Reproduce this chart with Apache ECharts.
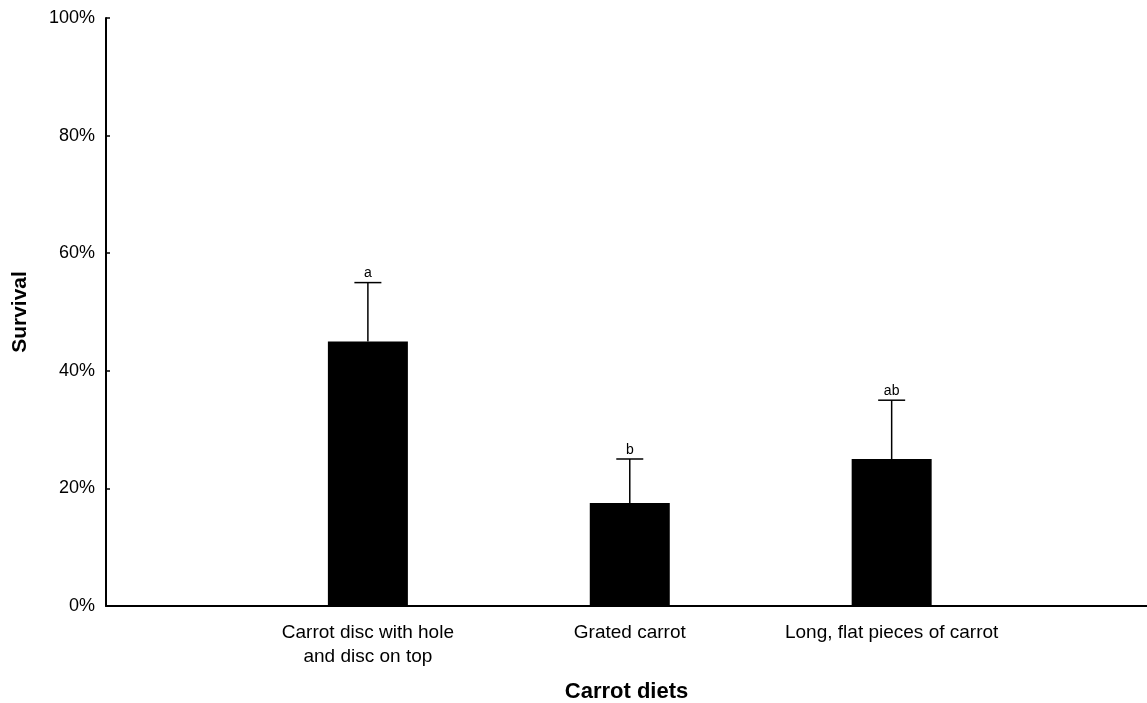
<!DOCTYPE html>
<html>
<head>
<meta charset="utf-8">
<script src="https://cdn.jsdelivr.net/npm/echarts@6/dist/echarts.min.js"></script>
<style>
html,body{margin:0;padding:0;background:#fff;}
#chart{width:1147px;height:703px;}
</style>
</head>
<body>
<div id="chart"></div>
<script>
// Data
const categories = ['Carrot disc with hole\nand disc on top', 'Grated carrot', 'Long, flat pieces of carrot'];
const positions = [1, 2, 3];
const survival = [45, 17.5, 25];
const errorUpper = [10, 7.5, 10];
const letters = ['a', 'b', 'ab'];
const yTickStep = 20;

const font = 'Liberation Sans, Arial, Helvetica, sans-serif';
const chart = echarts.init(document.getElementById('chart'), null, {renderer: 'canvas'});

const barData = positions.map((p, i) => [p, survival[i]]);
const errData = positions.map((p, i) => [p, survival[i], survival[i] + errorUpper[i], i]);

chart.setOption({
  animation: false,
  backgroundColor: '#ffffff',
  grid: {left: 106, right: 0, top: 18, bottom: 97, containLabel: false, outerBoundsMode: 'none'},
  xAxis: {
    type: 'value',
    min: 0,
    max: 3.975,
    interval: 1,
    name: 'Carrot diets',
    nameLocation: 'middle',
    nameGap: 75,
    nameTextStyle: {fontFamily: font, fontSize: 22, fontWeight: 'bold', color: '#000'},
    axisLine: {show: true, lineStyle: {color: '#000', width: 2}},
    axisTick: {show: false},
    splitLine: {show: false},
    axisLabel: {
      show: true,
      margin: 15,
      fontFamily: font,
      fontSize: 19,
      lineHeight: 24,
      color: '#000',
      showMinLabel: false,
      showMaxLabel: false,
      formatter: function (v) {
        const idx = positions.indexOf(v);
        return idx >= 0 ? categories[idx] : '';
      }
    }
  },
  yAxis: {
    type: 'value',
    min: 0,
    max: 100,
    interval: yTickStep,
    name: 'Survival',
    nameLocation: 'middle',
    nameGap: 75,
    nameTextStyle: {fontFamily: font, fontSize: 21, fontWeight: 'bold', color: '#000'},
    axisLine: {show: true, lineStyle: {color: '#000', width: 2}},
    axisTick: {show: true, inside: true, length: 4, lineStyle: {color: '#000', width: 1.5}},
    splitLine: {show: false},
    axisLabel: {
      margin: 11,
      fontFamily: font,
      fontSize: 18,
      color: '#000',
      formatter: v => v + '%'
    }
  },
  series: [
    {
      type: 'bar',
      data: barData,
      barWidth: 80,
      itemStyle: {color: '#000'},
      z: 2
    },
    {
      type: 'custom',
      data: errData,
      z: 3,
      renderItem: function (params, api) {
        const x = api.value(0);
        const lo = api.coord([x, api.value(1)]);
        const hi = api.coord([x, api.value(2)]);
        const idx = api.value(3);
        const half = 13.5;
        return {
          type: 'group',
          children: [
            {type: 'line', shape: {x1: lo[0], y1: lo[1], x2: hi[0], y2: hi[1]}, style: {stroke: '#000', lineWidth: 1.5}},
            {type: 'line', shape: {x1: hi[0] - half, y1: hi[1], x2: hi[0] + half, y2: hi[1]}, style: {stroke: '#000', lineWidth: 1.5}},
            {type: 'text', x: hi[0], y: hi[1] - 2, style: {text: letters[idx], fontFamily: font, fontSize: 14, fill: '#000', align: 'center', verticalAlign: 'bottom'}}
          ]
        };
      }
    }
  ]
});
</script>
</body>
</html>
